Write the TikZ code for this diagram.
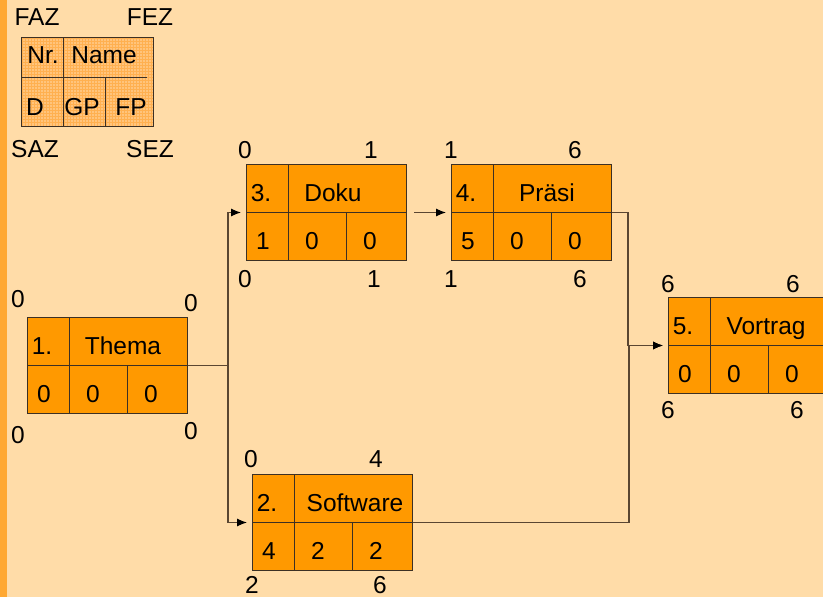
\documentclass[tikz,border=0pt]{standalone}
\usepackage{fontspec}
\setmainfont{Liberation Sans}
\usetikzlibrary{calc,arrows.meta}
\definecolor{bgc}{HTML}{FFDCA8}
\definecolor{barc}{HTML}{FFA832}
\definecolor{boxc}{HTML}{FF9900}
\definecolor{legc}{HTML}{FFC47C}
\definecolor{gridc}{HTML}{FFB050}
\definecolor{linec}{HTML}{3C3024}
\definecolor{connc}{HTML}{5A4632}
\tikzset{
  tbox/.style={rectangle, draw=linec, fill=boxc, line width=1pt, minimum width=160pt, minimum height=96pt, inner sep=0pt},
  cellline/.style={draw=linec, line width=1pt},
  txt/.style={anchor=base, inner sep=0pt, font=\fontsize{24.5}{28}\selectfont},
  conn/.style={draw=connc, line width=1.1pt},
  arr/.style={conn, -{Latex[length=10pt,width=8pt,color=black,fill=black]}, shorten >=5pt}
}
\newcommand{\taskbox}[9]{%
  \node[tbox, anchor=north west] (#1) at (#2,#3) {};
  \draw[cellline] (#1.west) -- (#1.east);
  \draw[cellline] ($(#1.north west)+(42,0)$) -- ($(#1.south west)+(42,0)$);
  \draw[cellline] ($(#1.west)+(100,0)$) -- ($(#1.south west)+(100,0)$);
  \node[txt] (#1-nr) at ($(#1.north west)+(15,37)$) {#4};
  \node[txt] (#1-name) at ($(#1.north west)+(#6,37)$) {#5};
  \node[txt] (#1-d) at ($(#1.north west)+(17,85)$) {#7};
  \node[txt] (#1-gp) at ($(#1.north west)+(66,85)$) {#8};
  \node[txt] (#1-fp) at ($(#1.north west)+(124,85)$) {#9};
}
\begin{document}
\begin{tikzpicture}[x=1pt,y=-1pt]
\useasboundingbox (0,0) rectangle (823,597);
\clip (0,0) rectangle (823,597);
\fill[bgc] (0,0) rectangle (823,597);
\fill[barc] (0,0) rectangle (7,597);

% legend
\node[rectangle, fill=legc, minimum width=132pt, minimum height=89pt, inner sep=0pt, anchor=north west] (legend) at (21,37) {};
\foreach \gx in {22.5,25.5,...,152} {\draw[gridc, line width=0.5pt] (\gx,37) -- (\gx,126);}
\foreach \gy in {38.5,41.5,...,125} {\draw[gridc, line width=0.5pt] (21,\gy) -- (153,\gy);}
\draw[linec, line width=0.8pt] (legend.north west) rectangle (legend.south east);
\draw[cellline] (21,77) -- (147,77);
\draw[cellline] (63,37) -- (63,126);
\draw[cellline] (105,77) -- (105,126);
\node[txt] (faz) at (37,26) {FAZ};
\node[txt] (fez) at (150,26) {FEZ};
\node[txt] (saz) at (35,157) {SAZ};
\node[txt] (sez) at (150,157) {SEZ};
\node[txt] (lnr) at (43,63) {Nr.};
\node[txt] (lname) at (104,63) {Name};
\node[txt] (ld) at (35,115) {D};
\node[txt] (lgp) at (82,115) {GP};
\node[txt] (lfp) at (131,115) {FP};

% tasks
\taskbox{thema}{27}{317}{1.}{Thema}{96}{0}{0}{0}
\taskbox{doku}{246}{164}{3.}{Doku}{87}{1}{0}{0}
\taskbox{praesi}{451}{164}{4.}{Präsi}{96}{5}{0}{0}
\taskbox{vortrag}{668}{297}{5.}{Vortrag}{98}{0}{0}{0}
\taskbox{soft}{252}{474}{2.}{Software}{103}{4}{2}{2}

% time labels
\node[txt] (t-faz) at (18,307) {0};
\node[txt] (t-fez) at (191,311) {0};
\node[txt] (t-saz) at (18,443) {0};
\node[txt] (t-sez) at (191,439) {0};
\node[txt] (d-faz) at (245,158) {0};
\node[txt] (d-fez) at (371,158) {1};
\node[txt] (d-saz) at (245,287) {0};
\node[txt] (d-sez) at (374,287) {1};
\node[txt] (p-faz) at (451,158) {1};
\node[txt] (p-fez) at (575,158) {6};
\node[txt] (p-saz) at (451,287) {1};
\node[txt] (p-sez) at (580,287) {6};
\node[txt] (v-faz) at (668,292) {6};
\node[txt] (v-fez) at (793,292) {6};
\node[txt] (v-saz) at (668,418) {6};
\node[txt] (v-sez) at (797,418) {6};
\node[txt] (s-faz) at (251,467) {0};
\node[txt] (s-fez) at (376,467) {4};
\node[txt] (s-saz) at (252,593) {2};
\node[txt] (s-sez) at (380,593) {6};

% connectors
\draw[arr] (thema.east) -- ++(40,0) |- (doku.west);
\draw[arr] (thema.east) -- ++(40,0) |- (soft.west);
\draw[arr, shorten <=7pt] (doku.east) -- (praesi.west);
\draw[arr] (praesi.east) -- ++(16,0) |- (vortrag.west);
\draw[arr] (soft.east) -- ++(216,0) |- (vortrag.west);
\end{tikzpicture}
\end{document}
